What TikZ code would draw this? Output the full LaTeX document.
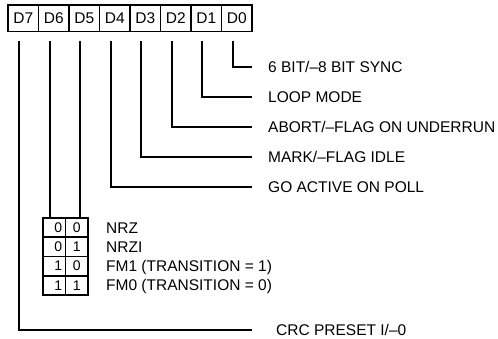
\documentclass[tikz,border=0pt]{standalone}
\usepackage{fontspec}
\setmainfont{Liberation Sans}
\usetikzlibrary{positioning}

\begin{document}
\begin{tikzpicture}[
  x=1pt, y=-1pt,
  every node/.style={font=\fontsize{15.5}{18}\selectfont},
  bitbox/.style={
    draw, line width=1.8pt, outer sep=0pt, inner sep=0pt,
    minimum width=30.5pt, minimum height=26.5pt
  },
  cell/.style={
    draw, line width=1.8pt, outer sep=0pt, inner sep=0pt,
    minimum width=22.5pt, minimum height=19.25pt,
    font=\fontsize{14}{16}\selectfont
  },
  lcell/.style={cell, text width=16pt, align=right},
  bitlbl/.style={anchor=west, inner sep=0pt, text height=10.9pt, text depth=0pt},
  wire/.style={line width=2pt}
]
\useasboundingbox (0,0) rectangle (498,339);

% Register bits
\node[bitbox] (d7) at (23.25,18.25) {D7};
\node[bitbox, right=0pt of d7] (d6) {D6};
\node[bitbox, right=0pt of d6] (d5) {D5};
\node[bitbox, right=0pt of d5] (d4) {D4};
\node[bitbox, right=0pt of d4] (d3) {D3};
\node[bitbox, right=0pt of d3] (d2) {D2};
\node[bitbox, right=0pt of d2] (d1) {D1};
\node[bitbox, right=0pt of d1] (d0) {D0};

% Bit meanings
\node[bitlbl] (sync)   at (268,67)  {6 BIT/–8 BIT SYNC};
\node[bitlbl] (loop)   at (268,97)  {LOOP MODE};
\node[bitlbl] (abort)  at (268,127) {ABORT/–FLAG ON UNDERRUN};
\node[bitlbl] (mark)   at (268,157) {MARK/–FLAG IDLE};
\node[bitlbl] (goact)  at (268,187) {GO ACTIVE ON POLL};
\node[bitlbl] (crc)    at (276,330) {CRC PRESET I/–0};

% Encoding table (D6, D5)
\node[lcell] (a1) at (54.25,227.6) {0};
\node[cell, right=0pt of a1] (b1) {0};
\node[lcell, below=0pt of a1] (a2) {0};
\node[cell, right=0pt of a2] (b2) {1};
\node[lcell, below=0pt of a2] (a3) {1};
\node[cell, right=0pt of a3] (b3) {0};
\node[lcell, below=0pt of a3] (a4) {1};
\node[cell, right=0pt of a4] (b4) {1};

\node[bitlbl, right=18pt of b1] (nrz)  {NRZ};
\node[bitlbl, right=18pt of b2] (nrzi) {NRZI};
\node[bitlbl, right=18pt of b3] (fm1)  {FM1 (TRANSITION = 1)};
\node[bitlbl, right=18pt of b4] (fm0)  {FM0 (TRANSITION = 0)};

% Wires
\draw[wire] ([xshift=-4pt,yshift=-10pt]d0.south) |- ([xshift=-16pt]sync.west);
\draw[wire] ([xshift=-4pt,yshift=-10pt]d1.south) |- ([xshift=-16pt]loop.west);
\draw[wire] ([xshift=-4pt,yshift=-10pt]d2.south) |- ([xshift=-16pt]abort.west);
\draw[wire] ([xshift=-4pt,yshift=-10pt]d3.south) |- ([xshift=-16pt]mark.west);
\draw[wire] ([xshift=-4pt,yshift=-10pt]d4.south) |- ([xshift=-16pt]goact.west);
\draw[wire] ([xshift=-4pt,yshift=-10pt]d6.south) -- ([xshift=-4pt]d6.south |- a1.north);
\draw[wire] ([xshift=-4pt,yshift=-10pt]d5.south) -- ([xshift=-4pt]d5.south |- b1.north);
\draw[wire] ([xshift=-4pt,yshift=-10pt]d7.south) |- ([xshift=-24pt]crc.west);

\end{tikzpicture}
\end{document}
